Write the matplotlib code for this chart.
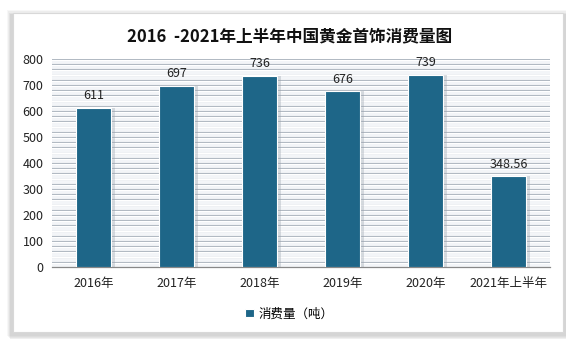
import matplotlib
matplotlib.use("Agg")
import matplotlib.pyplot as plt
from matplotlib.patches import Rectangle
import numpy as np

plt.rcParams['font.family'] = ['Noto Sans CJK SC', 'DejaVu Sans']

years = ["2016年", "2017年", "2018年", "2019年", "2020年", "2021年上半年"]
consumption = [611, 697, 736, 676, 739, 348.56]
value_labels = ["611", "697", "736", "676", "739", "348.56"]

bar_color = "#1e6688"

fig = plt.figure(figsize=(5.79, 3.48), dpi=100)
fig.patch.set_facecolor("white")

# card background with a soft shadow on each side
for i, a in enumerate([0.06, 0.08, 0.10, 0.12]):
    fig.patches.append(Rectangle((0.012 + i * 0.002, 0.035 - i * 0.003),
                                 0.965 - i * 0.002, 0.935,
                                 transform=fig.transFigure, facecolor="#808080",
                                 alpha=a, edgecolor="none", zorder=0))
fig.patches.append(Rectangle((0.022, 0.045), 0.950, 0.918,
                             transform=fig.transFigure, facecolor="white",
                             edgecolor="#d8d8d8", linewidth=0.8, zorder=1))

ax = fig.add_axes([0.0898, 0.2328, 0.860, 0.5977])
ax.set_facecolor("#f3f5f8")
ax.set_zorder(2)

x = np.arange(len(years))

# striped background
for yv in range(20, 801, 20):
    ax.axhline(yv, color="#aeb6c0", linewidth=0.8, zorder=1)
    ax.axhline(yv - 3, color="#ffffff", linewidth=0.8, zorder=1)

# bar shadows then bars
ax.bar(x + 0.05, consumption, width=0.42, color="#9aa3ad", alpha=0.35,
       zorder=2, linewidth=0)
ax.bar(x, consumption, width=0.42, color=bar_color, edgecolor="white",
       linewidth=0.8, zorder=3, label="消费量（吨）")

for xi, v, s in zip(x, consumption, value_labels):
    ax.text(xi, v + 22, s, ha="center", va="bottom", fontsize=9,
            color="#222222", zorder=4)

ax.set_xlim(-0.5, len(years) - 0.5)
ax.set_ylim(0, 800)
ax.set_yticks(range(0, 801, 100))
ax.set_xticks(x)
ax.set_xticklabels(years)
ax.tick_params(axis="both", length=0, labelsize=9, colors="#222222")
ax.tick_params(axis="x", pad=7)
ax.tick_params(axis="y", pad=6)
for side in ["top", "right", "left"]:
    ax.spines[side].set_visible(False)
ax.spines["bottom"].set_color("#888888")
ax.spines["bottom"].set_linewidth(0.9)

fig.text(0.5, 0.897, "2016  -2021年上半年中国黄金首饰消费量图", ha="center",
         va="center", fontsize=12, fontweight="bold", color="#111111")

fig.legend(loc="center", bbox_to_anchor=(0.5, 0.098), frameon=False,
           fontsize=9, handlelength=0.7, handleheight=0.7, handletextpad=0.4)

fig.savefig("out.png", dpi=100)
